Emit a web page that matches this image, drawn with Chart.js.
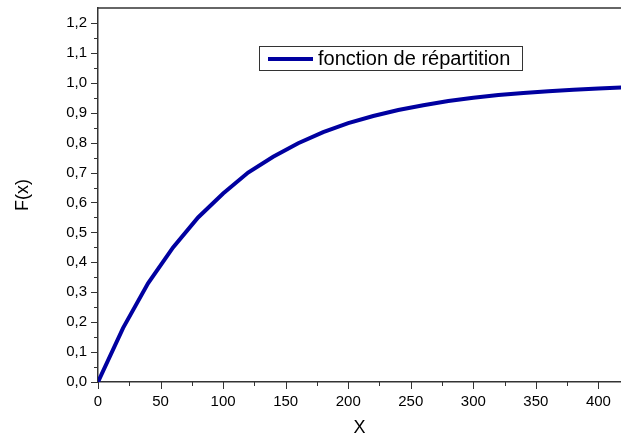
<!DOCTYPE html>
<html>
<head>
<meta charset="utf-8">
<script src="https://cdn.jsdelivr.net/npm/chart.js@4.4.1/dist/chart.umd.min.js"></script>
<style>
  html, body { margin: 0; padding: 0; background: #fff; }
  #wrap { width: 622px; height: 439px; }
</style>
</head>
<body>
<div id="wrap"><canvas id="myChart"></canvas></div>
<script>
// x values and F(x) of the curve
const xValues = [0, 20, 40, 60, 80, 100, 120, 140, 160, 180, 200, 220, 240, 260, 280, 300, 320, 340, 360, 380, 400, 420];
const fValues = [0, 0.18, 0.33, 0.45, 0.55, 0.63, 0.70, 0.753, 0.798, 0.835, 0.865, 0.889, 0.909, 0.925, 0.939, 0.950, 0.959, 0.966, 0.972, 0.977, 0.981, 0.985];
const seriesLabel = 'fonction de répartition';
const xTitle = 'X';
const yTitle = 'F(x)';

const lineColor = '#0000a0';
const axisColor = '#333';
const font = 'Arial, "Liberation Sans", sans-serif';

const points = xValues.map((x, i) => ({ x: x, y: fValues[i] }));

// outward ticks (major + minor) and the top frame line
const axisDecor = {
  id: 'axisDecor',
  afterDraw(chart) {
    const ctx = chart.ctx;
    const area = chart.chartArea;
    const xs = chart.scales.x;
    const ys = chart.scales.y;
    ctx.save();
    ctx.strokeStyle = axisColor;
    ctx.lineWidth = 1.5;
    ctx.beginPath();
    ctx.moveTo(area.left, area.top);
    ctx.lineTo(area.right, area.top);
    ctx.stroke();
    ctx.lineWidth = 1;
    for (let v = 0; v <= xs.max + 0.001; v += 25) {
      const px = Math.round(xs.getPixelForValue(v)) + 0.5;
      const len = v % 50 === 0 ? 7 : 4;
      ctx.beginPath();
      ctx.moveTo(px, area.bottom);
      ctx.lineTo(px, area.bottom + len);
      ctx.stroke();
    }
    for (let i = 0; i <= 24; i++) {
      const py = Math.round(ys.getPixelForValue(i * 0.05)) + 0.5;
      const len = i % 2 === 0 ? 7 : 4;
      ctx.beginPath();
      ctx.moveTo(area.left, py);
      ctx.lineTo(area.left - len, py);
      ctx.stroke();
    }
    ctx.restore();
  }
};

// boxed legend inside the plot
const boxLegend = {
  id: 'boxLegend',
  afterDraw(chart) {
    const ctx = chart.ctx;
    const area = chart.chartArea;
    const bx = area.left + 161;
    const by = area.top + 38;
    const bw = 263;
    const bh = 24;
    ctx.save();
    ctx.fillStyle = '#fff';
    ctx.fillRect(bx, by, bw, bh);
    ctx.strokeStyle = axisColor;
    ctx.lineWidth = 1;
    ctx.strokeRect(bx + 0.5, by + 0.5, bw, bh);
    ctx.strokeStyle = lineColor;
    ctx.lineWidth = 4;
    ctx.beginPath();
    ctx.moveTo(bx + 9, by + bh / 2 + 1);
    ctx.lineTo(bx + 54, by + bh / 2 + 1);
    ctx.stroke();
    ctx.fillStyle = '#000';
    ctx.font = '20px ' + font;
    ctx.textBaseline = 'middle';
    ctx.fillText(seriesLabel, bx + 59, by + bh / 2 + 1);
    ctx.restore();
  }
};

new Chart(document.getElementById('myChart'), {
  type: 'line',
  data: {
    datasets: [{
      label: seriesLabel,
      data: points,
      borderColor: lineColor,
      borderWidth: 4,
      pointRadius: 0,
      tension: 0,
      fill: false
    }]
  },
  options: {
    responsive: true,
    maintainAspectRatio: false,
    animation: false,
    layout: { padding: { top: 8, right: 1 } },
    plugins: { legend: { display: false }, tooltip: { enabled: false } },
    scales: {
      x: {
        type: 'linear',
        min: 0,
        max: 418,
        afterFit: s => { s.height = 57; },
        afterBuildTicks: s => {
          s.ticks = [];
          for (let v = 0; v <= 400; v += 50) s.ticks.push({ value: v });
        },
        grid: { drawOnChartArea: false, drawTicks: false },
        border: { color: axisColor, width: 1.5 },
        ticks: {
          autoSkip: false,
          padding: 11,
          color: '#000',
          font: { family: font, size: 15 },
          maxRotation: 0
        },
        title: {
          display: true,
          text: xTitle,
          color: '#000',
          font: { family: font, size: 18 },
          padding: { top: 4, bottom: 0 }
        }
      },
      y: {
        type: 'linear',
        min: 0,
        max: 1.25,
        afterFit: s => { s.width = 98; s.paddingTop = 0; s.paddingBottom = 0; },
        afterBuildTicks: s => {
          s.ticks = [];
          for (let i = 0; i <= 12; i++) s.ticks.push({ value: i / 10 });
        },
        grid: { drawOnChartArea: false, drawTicks: false },
        border: { color: axisColor, width: 1.5 },
        ticks: {
          padding: 11,
          color: '#000',
          font: { family: font, size: 15 },
          callback: v => v.toFixed(1).replace('.', ',')
        },
        title: {
          display: true,
          text: yTitle,
          color: '#000',
          font: { family: font, size: 18 },
          padding: { top: 12, bottom: 0 }
        }
      }
    }
  },
  plugins: [axisDecor, boxLegend]
});
</script>
</body>
</html>
